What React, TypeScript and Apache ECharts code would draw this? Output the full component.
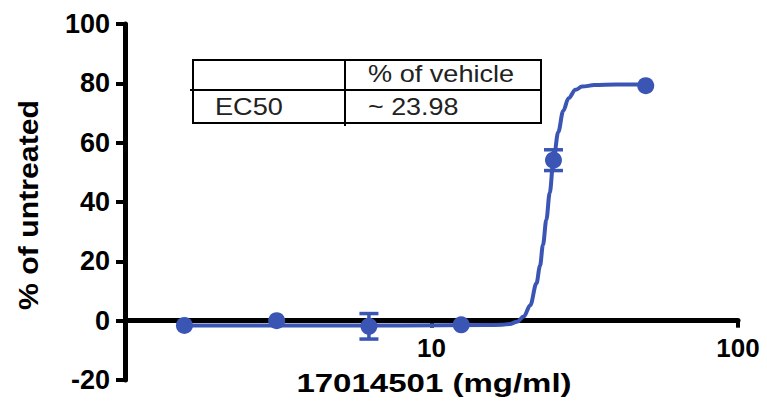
import React, { useEffect, useRef } from "react";
import * as echarts from "echarts";

// Measured points (concentration in mg/ml, % of untreated)
const concentrations = [1.5625, 3.125, 6.25, 12.5, 25, 50];
const meanValues = [-1.6, 0, -1.9, -1.4, 54.1, 79.2];
const errorValues = [0, 0, 4.3, 0, 3.5, 0];

// Fitted curve
const curveX = [1.5625, 8, 15, 17, 18, 19, 20, 21, 22, 22.6, 23.1, 23.7, 24.3, 25, 25.9, 26.9, 28, 29.5, 31, 34, 40, 50];
const curveY = [-1.6, -1.6, -1.5, -1.4, -1.1, -0.4, 1.4, 5.2, 12.6, 18.5, 25.5, 34, 43, 54, 63.5, 70.7, 75, 77.8, 78.9, 79.4, 79.6, 79.6];

const yTicks = { min: -20, max: 100, interval: 20 };
const xRange = { min: 1, max: 100 };

const tableHeader = "% of vehicle";
const tableRowLabel = "EC50";
const tableRowValue = "~ 23.98";
const xTitle = "17014501 (mg/ml)";
const yTitle = "% of untreated";

const BLUE = "#3a55b4";
const FONT = "'Liberation Sans', Arial, Helvetica, sans-serif";

const GRID = { left: 125, right: 29, top: 24, bottom: 21 };
const CHART_H = 401;

export default function App() {
  const ref = useRef<HTMLDivElement>(null);

  useEffect(() => {
    if (!ref.current) return;
    const chart = echarts.init(ref.current, undefined, { renderer: "svg" });

    const errData = concentrations.map((x, i) => [x, meanValues[i] - errorValues[i], meanValues[i] + errorValues[i]]);
    // x axis crosses the y axis at 0: shift it up from the grid bottom by the pixel span of [min, 0]
    const gridH = CHART_H - GRID.top - GRID.bottom;
    const zeroOffset = -(gridH * (0 - yTicks.min)) / (yTicks.max - yTicks.min);

    chart.setOption({
      animation: false,
      backgroundColor: "#ffffff",
      textStyle: { fontFamily: FONT },
      grid: { ...GRID, containLabel: false, outerBoundsMode: "none" },
      xAxis: {
        type: "log",
        logBase: 10,
        min: xRange.min,
        max: xRange.max,
        position: "bottom",
        offset: zeroOffset,
        axisLine: { show: true, onZero: false, lineStyle: { color: "#000", width: 5 } },
        axisTick: { show: true, inside: false, length: 7, lineStyle: { color: "#000", width: 4 } },
        minorTick: { show: false },
        splitLine: { show: false },
        axisLabel: {
          show: true,
          margin: 14,
          color: "#000",
          fontSize: 26,
          fontWeight: "bold",
          fontFamily: FONT,
          formatter: (v: number) => (Math.abs(v - 1) < 1e-9 ? "" : String(Math.round(v))),
        },
      },
      yAxis: {
        type: "value",
        min: yTicks.min,
        max: yTicks.max,
        interval: yTicks.interval,
        axisLine: { show: true, onZero: false, lineStyle: { color: "#000", width: 5 } },
        axisTick: { show: true, inside: false, length: 9, lineStyle: { color: "#000", width: 4 } },
        splitLine: { show: false },
        axisLabel: {
          margin: 15,
          color: "#000",
          fontSize: 27,
          fontWeight: "bold",
          fontFamily: FONT,
        },
      },
      series: [
        {
          type: "line",
          data: curveX.map((x, i) => [x, curveY[i]]),
          showSymbol: false,
          smooth: 0.35,
          smoothMonotone: "x",
          lineStyle: { color: BLUE, width: 4 },
          z: 3,
        },
        {
          type: "custom",
          data: errData,
          encode: { x: 0, y: [1, 2] },
          z: 4,
          renderItem: (params: any, api: any) => {
            const x = api.value(0);
            const lo = api.value(1);
            const hi = api.value(2);
            if (hi === lo) return null;
            const top = api.coord([x, hi]);
            const bot = api.coord([x, lo]);
            const hw = 9.5;
            const style = { stroke: BLUE, lineWidth: 3.5 };
            return {
              type: "group",
              children: [
                { type: "line", shape: { x1: top[0], y1: top[1], x2: bot[0], y2: bot[1] }, style },
                { type: "line", shape: { x1: top[0] - hw, y1: top[1], x2: top[0] + hw, y2: top[1] }, style },
                { type: "line", shape: { x1: bot[0] - hw, y1: bot[1], x2: bot[0] + hw, y2: bot[1] }, style },
              ],
            };
          },
        },
        {
          type: "scatter",
          data: concentrations.map((x, i) => [x, meanValues[i]]),
          symbol: "circle",
          symbolSize: 17,
          itemStyle: { color: BLUE, opacity: 1 },
          z: 5,
        },
      ],
      graphic: [
        {
          type: "rect",
          shape: { x: 193, y: 60, width: 348, height: 63 },
          style: { fill: "#fff", stroke: "#000", lineWidth: 2 },
          z: 10,
        },
        {
          type: "line",
          shape: { x1: 190, y1: 90, x2: 541, y2: 90 },
          style: { stroke: "#000", lineWidth: 2 },
          z: 11,
        },
        {
          type: "line",
          shape: { x1: 345, y1: 60, x2: 345, y2: 126 },
          style: { stroke: "#000", lineWidth: 2 },
          z: 11,
        },
        {
          type: "text",
          x: 368,
          y: 74,
          scaleX: 1.13,
          style: { text: tableHeader, fontSize: 24, fontFamily: FONT, fill: "#222", textAlign: "left", textVerticalAlign: "middle" },
          z: 12,
        },
        {
          type: "text",
          x: 215,
          y: 107,
          scaleX: 1.13,
          style: { text: tableRowLabel, fontSize: 24, fontFamily: FONT, fill: "#222", textAlign: "left", textVerticalAlign: "middle" },
          z: 12,
        },
        {
          type: "text",
          x: 368,
          y: 107,
          scaleX: 1.12,
          style: { text: tableRowValue, fontSize: 24, fontFamily: FONT, fill: "#222", textAlign: "left", textVerticalAlign: "middle" },
          z: 12,
        },
        {
          type: "text",
          x: 434,
          y: 383,
          scaleX: 1.27,
          style: { text: xTitle, fontSize: 26, fontWeight: "bold", fontFamily: FONT, fill: "#000", textAlign: "center", textVerticalAlign: "middle" },
          z: 12,
        },
        {
          type: "text",
          x: 29,
          y: 205,
          rotation: Math.PI / 2,
          scaleX: 1.12,
          style: { text: yTitle, fontSize: 27, fontWeight: "bold", fontFamily: FONT, fill: "#000", textAlign: "center", textVerticalAlign: "middle" },
          z: 12,
        },
      ],
    });

    return () => {
      chart.dispose();
    };
  }, []);

  return (
    <div
      ref={ref}
      style={{ position: "fixed", left: 0, top: 0, width: 767, height: 401, background: "#fff" }}
    />
  );
}
